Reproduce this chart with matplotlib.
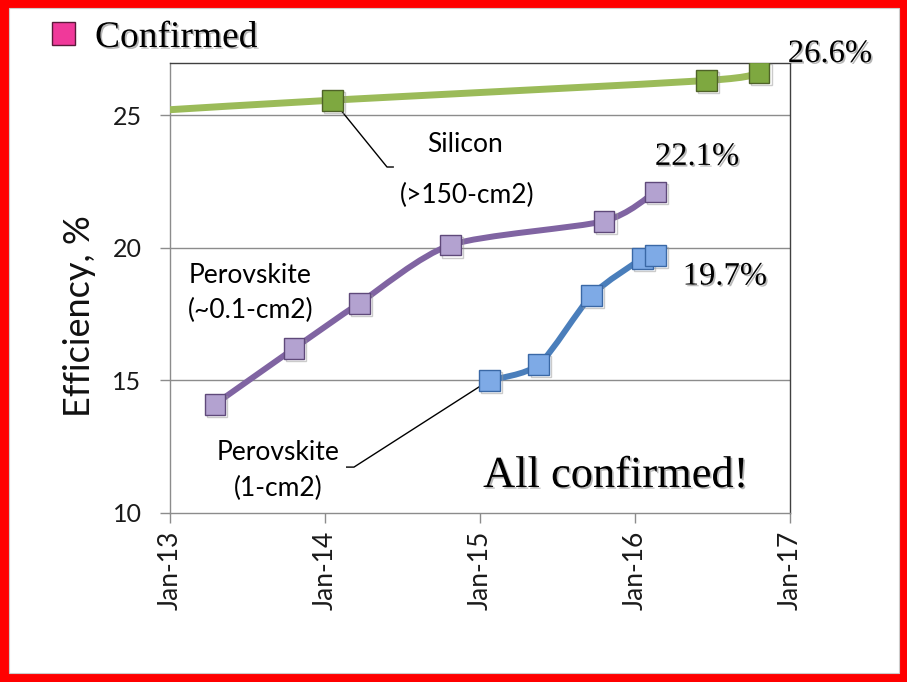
import matplotlib
matplotlib.use("Agg")
import matplotlib.pyplot as plt
from matplotlib.patches import Rectangle, PathPatch
from matplotlib.path import Path
import matplotlib.patheffects as pe

# ---- data (decimal years, efficiency %) ----
si_years = [2013.0, 2014.05, 2016.46, 2016.80]
si_eff = [25.2, 25.56, 26.3, 26.6]
si_marker = [False, True, True, True]

pv01_years = [2013.29, 2013.80, 2014.22, 2014.81, 2015.80, 2016.13]
pv01_eff = [14.1, 16.2, 17.9, 20.1, 21.0, 22.1]

pv1_years = [2015.06, 2015.38, 2015.72, 2016.05, 2016.13]
pv1_eff = [15.0, 15.6, 18.2, 19.6, 19.7]

x_ticks = [2013, 2014, 2015, 2016, 2017]
x_labels = ["Jan-13", "Jan-14", "Jan-15", "Jan-16", "Jan-17"]
y_ticks = [10, 15, 20, 25]

W, H = 907, 682
fig = plt.figure(figsize=(W / 100, H / 100), dpi=100)
fig.patch.set_facecolor("#ff0000")
fig.add_artist(Rectangle((9 / W, 9 / H), (899 - 9) / W, (674 - 9) / H,
                         transform=fig.transFigure, facecolor="white",
                         edgecolor="#cccccc", lw=0.8, zorder=0))

ax = fig.add_axes([170 / W, 1 - 513 / H, (790 - 170) / W, (513 - 63) / H])
ax.set_xlim(2013, 2017)
ax.set_ylim(10, 26.96)

sans = ["Lato", "DejaVu Sans"]
serif = ["Liberation Serif", "DejaVu Serif"]
shadow = [pe.withSimplePatchShadow(offset=(1.2, -1.2), shadow_rgbFace="#888888", alpha=0.6)]
mshadow = [pe.SimpleLineShadow(offset=(1.5, -1.5), shadow_color="#999999", alpha=0.5), pe.Normal()]


def smooth_line(ax, xs, ys, color, lw, k=8.0):
    """Excel-like smoothed line: cubic Bezier segments (Catmull-Rom style)."""
    pts = list(zip(xs, ys))
    n = len(pts)
    verts = [pts[0]]
    codes = [Path.MOVETO]
    for i in range(n - 1):
        p0 = pts[i - 1] if i > 0 else pts[i]
        p1 = pts[i]
        p2 = pts[i + 1]
        p3 = pts[i + 2] if i + 2 < n else pts[i + 1]
        c1 = (p1[0] + (p2[0] - p0[0]) / k, p1[1] + (p2[1] - p0[1]) / k)
        c2 = (p2[0] - (p3[0] - p1[0]) / k, p2[1] - (p3[1] - p1[1]) / k)
        verts += [c1, c2, p2]
        codes += [Path.CURVE4] * 3
    patch = PathPatch(Path(verts, codes), facecolor="none", edgecolor=color, lw=lw,
                      capstyle="round", joinstyle="round", zorder=3)
    ax.add_patch(patch)


for y in [15, 20, 25]:
    ax.axhline(y, color="#8c8c8c", lw=1.0, zorder=1)

# silicon
smooth_line(ax, si_years, si_eff, "#9bbb59", 5.0)
mx = [x for x, m in zip(si_years, si_marker) if m]
my = [y for y, m in zip(si_eff, si_marker) if m]
ax.plot(mx, my, ls="none", marker="s", ms=15, mfc="#7ea840", mec="#4f6228", mew=1.0,
        zorder=4, path_effects=mshadow)

# perovskite 0.1 cm2
smooth_line(ax, pv01_years, pv01_eff, "#8064a2", 4.3)
ax.plot(pv01_years, pv01_eff, ls="none", marker="s", ms=15, mfc="#b3a2d0", mec="#5f497a", mew=1.0,
        zorder=4, path_effects=mshadow)

# perovskite 1 cm2
smooth_line(ax, pv1_years, pv1_eff, "#4a7ebb", 4.3)
ax.plot(pv1_years, pv1_eff, ls="none", marker="s", ms=15, mfc="#7eaae6", mec="#3a68a6", mew=1.0,
        zorder=4, path_effects=mshadow)

# axes styling
ax.set_xticks(x_ticks)
ax.set_xticklabels(x_labels, rotation=90, fontsize=19, family=sans, color="#1a1a1a")
ax.set_yticks(y_ticks)
ax.set_yticklabels([str(v) for v in y_ticks], fontsize=18, family=sans, color="#1a1a1a")
ax.tick_params(axis="both", direction="out", length=7.5, width=1, color="#8c8c8c")
ax.tick_params(axis="y", pad=13)
ax.tick_params(axis="x", pad=5)
for s in ["left", "bottom"]:
    ax.spines[s].set_color("#8c8c8c")
    ax.spines[s].set_linewidth(1)
for s in ["top", "right"]:
    ax.spines[s].set_color("#404040")
    ax.spines[s].set_linewidth(1)
fig.text(80 / W, 1 - 316 / H, "Efficiency, %", rotation=90, ha="center", va="center",
         fontsize=26, family=sans, color="#111111")

# annotations
ax.plot([2014.05, 2014.40, 2014.44], [25.56, 23.04, 23.04], color="black", lw=1, zorder=2)
ax.text(2014.906, 23.61, "Silicon", ha="center", va="baseline", fontsize=19, family=sans)
ax.text(2014.92, 21.68, "(>150-cm2)", ha="center", va="baseline", fontsize=19, family=sans)
ax.text(2013.516, 18.68, "Perovskite", ha="center", va="baseline", fontsize=19, family=sans)
ax.text(2013.52, 17.36, "(~0.1-cm2)", ha="center", va="baseline", fontsize=19, family=sans)
ax.plot([2015.06, 2014.187, 2014.14], [15.0, 11.73, 11.73], color="black", lw=1, zorder=2)
ax.text(2013.70, 11.98, "Perovskite", ha="center", va="baseline", fontsize=19, family=sans)
ax.text(2013.70, 10.64, "(1-cm2)", ha="center", va="baseline", fontsize=19, family=sans)

ax.text(2016.40, 23.12, "22.1%", ha="center", va="baseline", fontsize=23.5, family=serif,
        path_effects=shadow)
ax.text(2016.58, 18.61, "19.7%", ha="center", va="baseline", fontsize=23.5, family=serif,
        path_effects=shadow)
ax.text(2015.02, 10.98, "All confirmed!", ha="left", va="baseline", fontsize=32, family=serif,
        path_effects=shadow)
fig.text(830 / W, 1 - 62 / H, "26.6%", ha="center", va="baseline", fontsize=23.5, family=serif,
         path_effects=shadow)

# legend-like header
fig.add_artist(Rectangle((52 / W, 1 - 45 / H), 23 / W, 23 / H, transform=fig.transFigure,
                         facecolor="#f0399a", edgecolor="#5a1a3a", lw=1))
fig.text(95 / W, 1 - 47 / H, "Confirmed", ha="left", va="baseline", fontsize=27, family=serif,
         path_effects=shadow)

fig.savefig("out.png", dpi=100, facecolor=fig.get_facecolor())
